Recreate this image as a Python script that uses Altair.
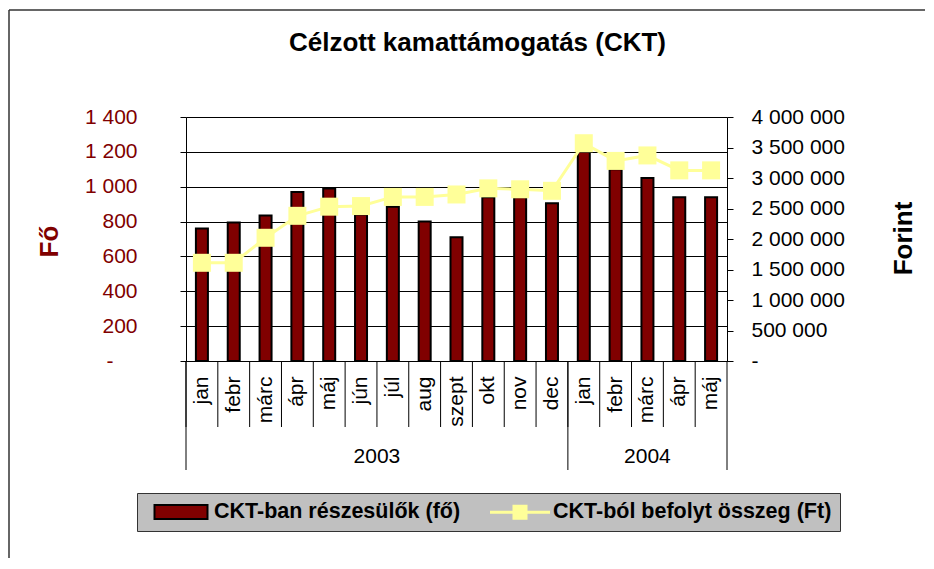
import altair as alt
import pandas as pd

# ---------------- data ----------------
chart_title = "Célzott kamattámogatás (CKT)"
years = ["2003"] * 12 + ["2004"] * 5
months = ["jan", "febr", "márc", "ápr", "máj", "jún", "júl", "aug", "szept", "okt", "nov", "dec",
          "jan", "febr", "márc", "ápr", "máj"]
persons = [760, 795, 835, 970, 990, 840, 885, 800, 710, 940, 940, 905,
           1200, 1100, 1050, 940, 940]
amounts = [1610000, 1610000, 2020000, 2380000, 2530000, 2540000, 2690000, 2690000, 2730000,
           2830000, 2815000, 2790000, 3570000, 3280000, 3370000, 3125000, 3125000]
series_names = ["CKT-ban részesülők (fő)", "CKT-ból befolyt összeg (Ft)"]
left_ticks = [0, 200, 400, 600, 800, 1000, 1200, 1400]
right_ticks = [0, 500000, 1000000, 1500000, 2000000, 2500000, 3000000, 3500000, 4000000]
left_title = "Fő"
right_title = "Forint"

# ---------------- style ----------------
FONT = "Liberation Sans"
BAR = "#800000"
LINE = "#FFFF99"
PLOT_BG = "#C0C0C0"
W, H = 541, 244

keys = [f"{y} {m}" for y, m in zip(years, months)]
df = pd.DataFrame({"key": keys, "month": months, "year": years, "fo": persons, "ft": amounts})

num_expr = "replace(format(datum.value, ','), regexp(',', 'g'), ' ')"

xscale = alt.Scale(domain=keys, paddingInner=0, paddingOuter=0)
xaxis = alt.Axis(
    title=None, labelExpr="split(datum.value, ' ')[1]", labelAngle=270, labelAlign="right",
    labelBaseline="middle", labelPadding=15, labelFont=FONT, labelFontSize=21, labelColor="black",
    ticks=False, domainColor="black", domainWidth=1, grid=False, labelOverlap=False,
)


def X(band=0.5):
    return alt.X("key:N", scale=xscale, axis=xaxis, bandPosition=band)


left_axis = alt.Axis(
    values=left_ticks, labelExpr=f"datum.value == 0 ? '-' : {num_expr}",
    labelColor=BAR, labelFont=FONT, labelFontSize=21,
    labelPadding={"condition": {"test": "datum.value == 0", "value": 67}, "value": 43},
    tickSize=6, tickColor="black", domainColor="black",
    grid=True, gridColor="black", gridWidth=1,
    title=left_title, titleColor=BAR, titleFont=FONT, titleFontSize=26, titleFontWeight="bold",
    titleAngle=270, titleX=-137, titleY=124, titleAlign="center", titleBaseline="middle",
)
right_axis = alt.Axis(
    orient="right", values=right_ticks, labelExpr=f"datum.value == 0 ? '-' : {num_expr}",
    labelColor="black", labelFont=FONT, labelFontSize=21, labelPadding=18,
    tickSize=6, tickColor="black", domainColor="black", grid=False,
    title=right_title, titleColor="black", titleFont=FONT, titleFontSize=26, titleFontWeight="bold",
    titleAngle=270, titleX=176, titleY=121, titleAlign="center", titleBaseline="middle",
)

# outer chart frame (top and left edges; the rest runs off the picture)
one = pd.DataFrame({"k": [0]})
frame_top = alt.Chart(one).mark_rule(color="#333333", strokeWidth=1.5).encode(
    x=alt.value(-177), x2=alt.value(W + 198), y=alt.value(-107))
frame_left = alt.Chart(one).mark_rule(color="#333333", strokeWidth=1.5).encode(
    x=alt.value(-177), y=alt.value(-107), y2=alt.value(H + 197))

bars = alt.Chart(df).mark_bar(color=BAR, stroke="black", strokeWidth=2, width=12).encode(
    x=X(),
    y=alt.Y("fo:Q", scale=alt.Scale(domain=[0, 1400], nice=False), axis=left_axis),
)

line = alt.Chart(df).mark_line(color=LINE, strokeWidth=3).encode(
    x=X(),
    y=alt.Y("ft:Q", scale=alt.Scale(domain=[0, 4000000], nice=False), axis=right_axis),
)
points = alt.Chart(df).mark_square(size=324, color=LINE, opacity=1).encode(
    x=X(),
    y=alt.Y("ft:Q", scale=alt.Scale(domain=[0, 4000000], nice=False), axis=None),
)

month_rules = alt.Chart(df).mark_rule(color="black", strokeWidth=1).encode(
    x=X(0), y=alt.value(H), y2=alt.value(H + 66)
)

# year groups
year_names = sorted(set(years))
year_first = [keys[years.index(y)] for y in year_names]
year_last = [keys[len(years) - 1 - years[::-1].index(y)] for y in year_names]
year_rules_start = alt.Chart(pd.DataFrame({"key": year_first})).mark_rule(
    color="black", strokeWidth=1).encode(x=X(0), y=alt.value(H), y2=alt.value(H + 109))
year_rules_end = alt.Chart(pd.DataFrame({"key": year_last[-1:]})).mark_rule(
    color="black", strokeWidth=1).encode(x=X(1), y=alt.value(H), y2=alt.value(H + 109))

year_texts = []
for y in year_names:
    idx = [i for i, yy in enumerate(years) if yy == y]
    mid = (len(idx) - 1) / 2
    base = int(mid)
    band = 0.5 + (mid - base)
    anchor_key = keys[idx[base]]
    year_texts.append(
        alt.Chart(pd.DataFrame({"key": [anchor_key], "year": [y]})).mark_text(
            font=FONT, fontSize=21, color="black", baseline="middle", align="center"
        ).encode(x=X(band), y=alt.value(H + 96), text="year:N")
    )

# legend-only layer (symbol size 20px nominal; paths drawn wider)
rect_path = "M-2.65,-0.7H2.65V0.7H-2.65Z"
line_path = "M-2.9,-0.05H2.9V0.05H-2.9Z M-0.65,-0.65H0.65V0.65H-0.65Z"
legend = alt.Legend(
    title=None, orient="none", legendX=-49, legendY=376, direction="horizontal",
    fillColor=PLOT_BG, strokeColor="#333333", padding=8,
    labelFont=FONT, labelFontSize=21.5, labelFontWeight="bold", labelColor="black", labelLimit=500,
    symbolSize=400, symbolStrokeWidth=2, symbolOpacity=1, symbolOffset=25,
    columnPadding=23, labelOffset=22,
)
legend_layer = alt.Chart(pd.DataFrame({"series": series_names})).transform_filter("false").mark_point(
    filled=True, opacity=1
).encode(
    shape=alt.Shape("series:N", scale=alt.Scale(domain=series_names, range=[rect_path, line_path]), legend=legend),
    fill=alt.Fill("series:N", scale=alt.Scale(domain=series_names, range=[BAR, LINE]), legend=legend),
    stroke=alt.Stroke("series:N", scale=alt.Scale(domain=series_names, range=["black", LINE]), legend=legend),
)

chart = alt.layer(
    frame_top, frame_left, bars, month_rules, year_rules_start, year_rules_end,
    line, points, *year_texts, legend_layer
).resolve_scale(y="independent").properties(
    width=W, height=H,
    title=alt.Title(chart_title, font=FONT, fontSize=26, fontWeight="bold", color="black",
                    anchor="middle", dx=21, dy=51),
    padding={"left": 178, "top": 109, "right": 199, "bottom": 198},
    autosize=alt.AutoSizeParams(type="none"),
).configure_view(fill=PLOT_BG, stroke="transparent").configure(background="white")

chart.save("out.html", embed_options={"renderer": "svg", "actions": False})
